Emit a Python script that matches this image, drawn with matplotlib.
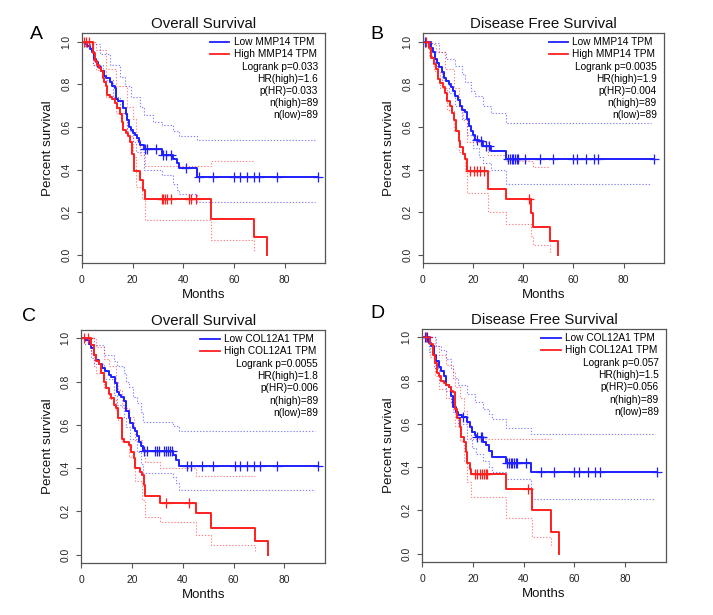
import matplotlib
matplotlib.use("Agg")
import matplotlib.pyplot as plt
import numpy as np

plt.rcParams["font.family"] = ["Liberation Sans", "DejaVu Sans"]

blue = "#1f1fff"
red = "#ff1f1f"
framecolor = "#555555"

# ---- panel A: MMP14, overall survival ----
A_low_t = [0, 1.0, 2.0, 3.0, 4.1, 4.8, 5.7, 6.5, 7.7, 8.6, 9.6, 11.0, 12.0, 13.2, 13.6, 14.3,
           16.2, 17.3, 17.8, 18.5, 19.3, 20.2, 21.1, 21.9, 22.6, 23.1, 24.4, 31.4, 36.0, 37.4, 38.3, 45.3]
A_low_s = [1.0, 0.99, 0.98, 0.965, 0.95, 0.92, 0.905, 0.88, 0.86, 0.84, 0.83, 0.81, 0.79, 0.78, 0.73, 0.72,
           0.69, 0.66, 0.63, 0.60, 0.585, 0.57, 0.56, 0.55, 0.53, 0.515, 0.495, 0.47, 0.45, 0.43, 0.405, 0.365]
A_low_cens = [24.8, 25.6, 29.4, 31.8, 33.0, 35.0, 41.0, 46.2, 51.9, 60.2, 62.2, 65.1, 68.0, 70.0, 77.0, 93.0]
A_low_up_t = [0, 3.0, 7.0, 11.0, 15.0, 17.0, 19.5, 22.8, 24.4, 28.0, 31.4, 36.0, 38.3, 45.3]
A_low_up_s = [1.0, 0.99, 0.94, 0.89, 0.835, 0.79, 0.74, 0.695, 0.655, 0.625, 0.61, 0.58, 0.555, 0.54]
A_low_lo_t = [0, 1.0, 4.4, 8.3, 12.3, 14.9, 17.6, 20.2, 21.5, 24.4, 31.4, 36.0, 37.4, 38.3, 45.3]
A_low_lo_s = [1.0, 0.975, 0.89, 0.82, 0.74, 0.665, 0.58, 0.53, 0.48, 0.40, 0.375, 0.33, 0.305, 0.285, 0.25]
A_high_t = [0, 4.4, 5.3, 5.9, 6.6, 7.4, 8.1, 8.7, 9.4, 9.9, 11.0, 12.0, 12.9, 13.9, 14.9, 15.6, 16.2,
            17.2, 18.0, 18.9, 19.8, 20.5, 22.8, 23.9, 24.8, 50.8, 68.1, 73.0]
A_high_s = [1.0, 0.945, 0.91, 0.89, 0.875, 0.86, 0.83, 0.81, 0.79, 0.75, 0.74, 0.73, 0.71, 0.69, 0.66, 0.625, 0.585,
            0.57, 0.555, 0.53, 0.475, 0.395, 0.35, 0.305, 0.26, 0.17, 0.085, 0.0]
A_high_cens = [0.7, 1.7, 2.6, 31.4, 32.0, 32.7, 33.4, 35.0, 42.2, 43.0, 45.0]
A_high_up_t = [0, 5.7, 9.6, 13.6, 17.6, 20.2, 21.5, 22.8, 24.8, 50.8]
A_high_up_s = [1.0, 0.96, 0.87, 0.79, 0.695, 0.635, 0.54, 0.47, 0.415, 0.44]
A_high_lo_t = [0, 4.4, 5.7, 9.6, 13.6, 17.6, 20.2, 21.5, 23.5, 24.8, 50.8, 68.1]
A_high_lo_s = [1.0, 0.89, 0.865, 0.74, 0.665, 0.555, 0.46, 0.32, 0.26, 0.165, 0.07, 0.02]

# ---- panel B: MMP14, disease free survival ----
B_low_t = [0, 3.4, 4.1, 5.0, 5.8, 6.6, 7.7, 8.4, 9.2, 10.3, 11.2, 12.0, 12.9, 13.9, 14.7, 15.6, 16.9,
           17.8, 18.5, 19.1, 19.8, 20.9, 22.2, 23.9, 27.2, 33.1]
B_low_s = [1.0, 0.97, 0.95, 0.92, 0.90, 0.88, 0.855, 0.83, 0.815, 0.80, 0.785, 0.77, 0.745, 0.725, 0.70, 0.68, 0.67,
           0.635, 0.605, 0.58, 0.56, 0.54, 0.535, 0.51, 0.485, 0.45]
B_low_cens = [1.0, 21.5, 23.0, 25.0, 26.4, 34.0, 34.7, 35.4, 36.0, 36.8, 37.4, 38.0, 40.7, 46.6, 51.9,
              59.8, 61.5, 65.0, 68.0, 69.7, 92.0]
B_low_up_t = [0, 3.4, 6.6, 9.2, 12.9, 15.6, 16.9, 19.1, 20.9, 23.9, 27.2, 33.1]
B_low_up_s = [1.0, 0.995, 0.95, 0.92, 0.885, 0.85, 0.81, 0.77, 0.745, 0.70, 0.665, 0.62]
B_low_lo_t = [0, 3.4, 5.0, 7.7, 10.3, 12.9, 15.6, 17.8, 19.8, 22.2, 23.9, 27.2, 33.1]
B_low_lo_s = [1.0, 0.93, 0.885, 0.82, 0.76, 0.70, 0.635, 0.56, 0.50, 0.46, 0.43, 0.40, 0.33]
B_high_t = [0, 2.6, 3.4, 4.4, 5.3, 6.1, 7.0, 7.9, 9.0, 9.8, 10.7, 11.6, 12.5, 13.3, 14.3, 15.0, 16.0,
            16.9, 17.8, 25.9, 33.0, 42.9, 44.0, 50.6, 53.9]
B_high_s = [1.0, 0.97, 0.925, 0.895, 0.87, 0.825, 0.805, 0.785, 0.76, 0.72, 0.70, 0.665, 0.63, 0.58, 0.535, 0.505, 0.475,
            0.45, 0.395, 0.31, 0.26, 0.195, 0.13, 0.065, 0.0]
B_high_cens = [1.3, 18.9, 20.2, 21.5, 22.8, 24.2, 42.2]
B_high_up_t = [0, 3.4, 5.3, 9.0, 12.5, 14.3, 16.0, 17.8, 25.9, 33.0, 44.0]
B_high_up_s = [1.0, 0.99, 0.95, 0.87, 0.78, 0.70, 0.63, 0.53, 0.47, 0.44, 0.41]
B_high_lo_t = [0, 2.6, 4.4, 7.0, 9.8, 12.5, 14.3, 16.9, 17.8, 25.9, 33.0, 42.9, 44.0, 50.6]
B_high_lo_s = [1.0, 0.93, 0.86, 0.78, 0.68, 0.58, 0.48, 0.40, 0.29, 0.20, 0.145, 0.09, 0.045, 0.01]

# ---- panel C: COL12A1, overall survival ----
C_low_t = [0, 1.6, 2.9, 3.8, 4.9, 5.8, 6.8, 8.1, 9.4, 10.8, 11.8, 13.1, 14.0, 14.7, 15.6, 16.7, 17.6,
           18.6, 19.3, 20.2, 21.0, 21.9, 22.6, 23.5, 24.3, 36.3, 37.4, 38.6]
C_low_s = [1.0, 0.99, 0.975, 0.955, 0.925, 0.90, 0.88, 0.865, 0.85, 0.83, 0.82, 0.795, 0.75, 0.74, 0.727, 0.71, 0.665,
           0.63, 0.61, 0.585, 0.57, 0.55, 0.52, 0.50, 0.48, 0.46, 0.435, 0.41]
C_low_cens = [24.8, 25.8, 29.0, 30.0, 30.7, 32.4, 33.3, 34.0, 35.0, 35.7, 41.6, 43.1, 47.5, 52.0, 60.6,
              62.3, 65.2, 68.0, 70.2, 77.0, 93.0]
C_low_up_t = [0, 4.9, 8.8, 12.7, 14.0, 16.7, 17.6, 18.6, 20.2, 21.9, 23.5, 24.3, 36.3, 38.6]
C_low_up_s = [1.0, 0.97, 0.925, 0.895, 0.87, 0.84, 0.80, 0.775, 0.73, 0.70, 0.66, 0.615, 0.595, 0.57]
C_low_lo_t = [0, 1.6, 3.8, 4.9, 8.8, 12.7, 14.0, 16.7, 17.6, 19.3, 21.9, 23.5, 24.3, 36.3, 37.4, 38.6]
C_low_lo_s = [1.0, 0.975, 0.91, 0.88, 0.81, 0.74, 0.69, 0.63, 0.59, 0.535, 0.475, 0.42, 0.375, 0.36, 0.33, 0.30]
C_high_t = [0, 3.9, 4.9, 5.8, 7.1, 7.7, 8.8, 9.8, 10.8, 11.7, 12.7, 13.8, 14.4, 16.1, 17.0, 18.6, 19.7,
            20.6, 21.2, 23.2, 23.9, 24.8, 25.2, 31.1, 45.1, 51.1, 68.5, 73.4]
C_high_s = [1.0, 0.97, 0.925, 0.895, 0.88, 0.84, 0.80, 0.77, 0.742, 0.724, 0.69, 0.677, 0.63, 0.535, 0.52, 0.505, 0.475,
            0.445, 0.40, 0.38, 0.366, 0.32, 0.27, 0.24, 0.19, 0.125, 0.063, 0.0]
C_high_cens = [0.9, 2.5, 33.3, 42.5]
C_high_up_t = [0, 5.8, 8.8, 10.8, 13.8, 14.4, 16.1, 18.6, 20.6, 21.2, 23.9, 25.2, 31.1, 45.1]
C_high_up_s = [1.0, 0.96, 0.905, 0.87, 0.80, 0.76, 0.68, 0.635, 0.58, 0.53, 0.49, 0.43, 0.40, 0.365]
C_high_lo_t = [0, 3.9, 4.9, 5.8, 8.8, 10.8, 13.8, 14.4, 16.1, 18.6, 20.6, 21.2, 23.9, 25.2, 31.1, 45.1, 51.1, 68.5]
C_high_lo_s = [1.0, 0.93, 0.87, 0.84, 0.77, 0.72, 0.67, 0.62, 0.52, 0.45, 0.40, 0.34, 0.25, 0.175, 0.15, 0.09, 0.045, 0.015]

# ---- panel D: COL12A1, disease free survival ----
D_low_t = [0, 2.9, 3.7, 4.6, 5.5, 6.6, 7.4, 8.6, 9.5, 10.5, 11.4, 12.1, 13.2, 14.1, 15.8, 17.8, 18.8,
           19.7, 20.7, 21.3, 24.1, 25.0, 26.3, 27.6, 32.9, 42.8]
D_low_s = [1.0, 0.975, 0.96, 0.92, 0.89, 0.865, 0.843, 0.82, 0.78, 0.77, 0.73, 0.68, 0.656, 0.64, 0.633, 0.61, 0.586,
           0.563, 0.547, 0.54, 0.516, 0.50, 0.473, 0.446, 0.42, 0.375]
D_low_cens = [1.0, 2.0, 16.0, 21.5, 23.0, 23.7, 33.5, 34.2, 34.9, 35.5, 36.2, 36.8, 37.5, 40.8, 46.7,
              52.0, 60.0, 61.7, 65.2, 68.2, 70.0, 92.4]
D_low_up_t = [0, 5.5, 7.4, 9.5, 11.4, 12.1, 14.1, 17.8, 20.7, 24.1, 26.3, 27.6, 32.9, 42.8]
D_low_up_s = [1.0, 0.96, 0.94, 0.90, 0.86, 0.81, 0.78, 0.74, 0.70, 0.67, 0.645, 0.62, 0.58, 0.555]
D_low_lo_t = [0, 2.9, 4.6, 6.6, 9.5, 11.4, 12.1, 14.1, 17.8, 19.7, 21.3, 24.1, 26.3, 27.6, 32.9, 42.8]
D_low_lo_s = [1.0, 0.93, 0.86, 0.80, 0.75, 0.70, 0.655, 0.60, 0.53, 0.49, 0.46, 0.43, 0.40, 0.375, 0.345, 0.25]
D_high_t = [0, 3.3, 4.2, 4.9, 5.7, 6.6, 7.5, 8.6, 9.5, 10.5, 11.4, 12.2, 12.9, 13.8, 14.9, 15.5, 16.4,
            17.1, 17.8, 18.7, 19.3, 32.9, 43.4, 50.7, 54.0]
D_high_s = [1.0, 0.97, 0.92, 0.88, 0.835, 0.82, 0.80, 0.79, 0.78, 0.77, 0.75, 0.745, 0.67, 0.625, 0.587, 0.54, 0.516,
            0.47, 0.42, 0.39, 0.37, 0.30, 0.20, 0.10, 0.0]
D_high_cens = [1.6, 21.0, 21.8, 22.6, 23.4, 24.2, 25.0, 25.7, 41.7]
D_high_up_t = [0, 4.9, 6.6, 9.5, 12.2, 12.9, 14.9, 16.4, 17.8, 19.3]
D_high_up_s = [1.0, 0.96, 0.92, 0.87, 0.84, 0.77, 0.72, 0.66, 0.60, 0.53]
D_high_lo_t = [0, 3.3, 4.9, 6.6, 9.5, 11.4, 12.9, 14.9, 16.4, 17.8, 19.3, 32.9, 43.4, 50.7]
D_high_lo_s = [1.0, 0.91, 0.82, 0.76, 0.72, 0.69, 0.59, 0.52, 0.43, 0.33, 0.26, 0.165, 0.075, 0.035]

letters = ["A", "B", "C", "D"]
titles = ["Overall Survival", "Disease Free Survival", "Overall Survival", "Disease Free Survival"]
genes = ["MMP14", "MMP14", "COL12A1", "COL12A1"]
logrank_p = ["0.033", "0.0035", "0.0055", "0.057"]
hr_high = ["1.6", "1.9", "1.8", "1.5"]
p_hr = ["0.033", "0.004", "0.006", "0.056"]
n_high = [89, 89, 89, 89]
n_low = [89, 89, 89, 89]
end_low = [93.0, 92.0, 93.0, 92.4]
end_ci_high = [68.1, 50.6, 68.5, 50.7]


def step_line(ax, t, s, t_end, **kw):
    t = list(t) + [t_end]
    s = list(s) + [s[-1]]
    ax.step(t, s, where="post", **kw)


def censor_marks(ax, t, s, cens, color):
    t = np.array(t)
    s = np.array(s)
    idx = np.searchsorted(t, cens, side="right") - 1
    ax.plot(cens, s[idx], linestyle="none", marker="+", markersize=6.5,
            markeredgewidth=0.9, color=color)


def draw_panel(fig, ax, k, low, low_up, low_lo, low_cens, high, high_up, high_lo, high_cens):
    ci = dict(linestyle=(0, (1.2, 1.6)), linewidth=0.8)
    step_line(ax, low_up[0], low_up[1], end_low[k] - 1, color=blue, alpha=0.55, **ci)
    step_line(ax, low_lo[0], low_lo[1], end_low[k] - 1, color=blue, alpha=0.55, **ci)
    step_line(ax, high_up[0], high_up[1], end_ci_high[k], color=red, alpha=0.55, **ci)
    step_line(ax, high_lo[0], high_lo[1], end_ci_high[k], color=red, alpha=0.55, **ci)

    step_line(ax, low[0], low[1], end_low[k], color=blue, linewidth=1.4)
    step_line(ax, high[0], high[1], high[0][-1], color=red, linewidth=1.4)
    censor_marks(ax, low[0], low[1], low_cens, blue)
    censor_marks(ax, high[0], high[1], high_cens, red)

    ax.set_xlim(0, 96)
    ax.set_ylim(-0.039, 1.039)
    ax.set_xticks([0, 20, 40, 60, 80])
    ax.set_yticks([0.0, 0.2, 0.4, 0.6, 0.8, 1.0])
    ax.set_yticklabels(["0.0", "0.2", "0.4", "0.6", "0.8", "1.0"], rotation=90, va="center")
    ax.tick_params(axis="both", direction="out", length=3.6, width=0.8, color=framecolor,
                   labelsize=7.4, labelcolor="#222222")
    ax.tick_params(axis="x", pad=5)
    ax.tick_params(axis="y", pad=4)
    for sp in ax.spines.values():
        sp.set_color(framecolor)
        sp.set_linewidth(0.9)

    ax.set_title(titles[k], fontsize=10.8, pad=3.5, color="#111111")
    ax.set_xlabel("Months", fontsize=9.5, labelpad=3, color="#111111")
    ax.set_ylabel("Percent survival", fontsize=9.6, labelpad=5, color="#111111")

    # legend block, R style: two line entries then right aligned statistics
    y0 = 0.961
    dy = 0.053
    right = 0.965
    hi = ax.text(right, y0 - dy, f"High {genes[k]} TPM", transform=ax.transAxes,
                 fontsize=7.3, va="center", ha="right")
    renderer = fig.canvas.get_renderer()
    bb = hi.get_window_extent(renderer).transformed(ax.transAxes.inverted())
    left = bb.x0
    ax.text(left, y0, f"Low {genes[k]} TPM", transform=ax.transAxes, fontsize=7.3, va="center", ha="left")
    ax.plot([left - 0.099, left - 0.017], [y0, y0], transform=ax.transAxes, color=blue, linewidth=1.3)
    ax.plot([left - 0.099, left - 0.017], [y0 - dy, y0 - dy], transform=ax.transAxes, color=red, linewidth=1.3)
    stats = [f"Logrank p={logrank_p[k]}", f"HR(high)={hr_high[k]}", f"p(HR)={p_hr[k]}",
             f"n(high)={n_high[k]}", f"n(low)={n_low[k]}"]
    for i, line in enumerate(stats):
        ax.text(0.971, y0 - dy * (i + 2), line, transform=ax.transAxes, fontsize=7.3,
                va="center", ha="right")


fig = plt.figure(figsize=(7.13, 6.15), dpi=100)
positions = [[0.115, 0.572, 0.341, 0.374],
             [0.593, 0.572, 0.338, 0.374],
             [0.114, 0.0846, 0.342, 0.379],
             [0.592, 0.0862, 0.342, 0.379]]
letter_xy = [(0.042, 0.937), (0.52, 0.937), (0.031, 0.478), (0.52, 0.483)]

panels = [
    ((A_low_t, A_low_s), (A_low_up_t, A_low_up_s), (A_low_lo_t, A_low_lo_s), A_low_cens,
     (A_high_t, A_high_s), (A_high_up_t, A_high_up_s), (A_high_lo_t, A_high_lo_s), A_high_cens),
    ((B_low_t, B_low_s), (B_low_up_t, B_low_up_s), (B_low_lo_t, B_low_lo_s), B_low_cens,
     (B_high_t, B_high_s), (B_high_up_t, B_high_up_s), (B_high_lo_t, B_high_lo_s), B_high_cens),
    ((C_low_t, C_low_s), (C_low_up_t, C_low_up_s), (C_low_lo_t, C_low_lo_s), C_low_cens,
     (C_high_t, C_high_s), (C_high_up_t, C_high_up_s), (C_high_lo_t, C_high_lo_s), C_high_cens),
    ((D_low_t, D_low_s), (D_low_up_t, D_low_up_s), (D_low_lo_t, D_low_lo_s), D_low_cens,
     (D_high_t, D_high_s), (D_high_up_t, D_high_up_s), (D_high_lo_t, D_high_lo_s), D_high_cens),
]

for k in range(4):
    ax = fig.add_axes(positions[k])
    draw_panel(fig, ax, k, *panels[k])
    fig.text(letter_xy[k][0], letter_xy[k][1], letters[k], fontsize=14, ha="left", va="baseline")

fig.savefig("out.png", dpi=100, facecolor="white")
